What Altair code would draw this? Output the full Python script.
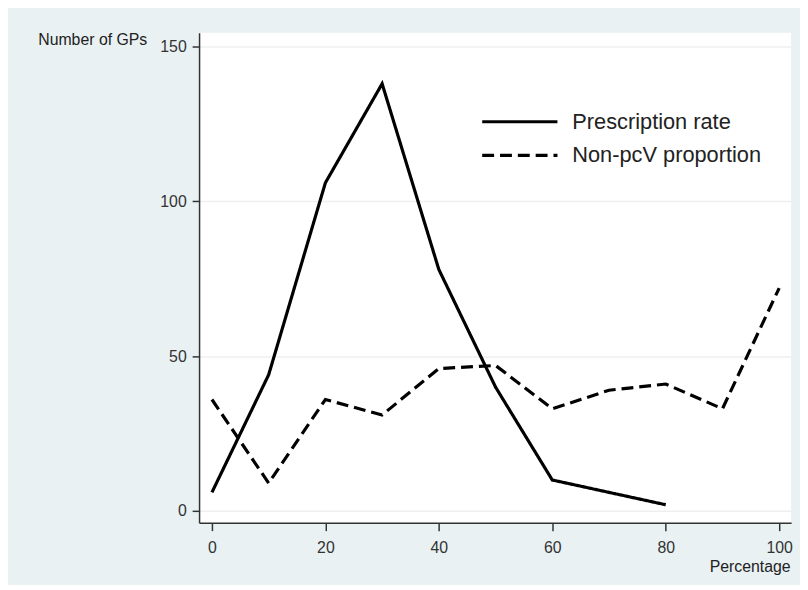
import altair as alt
import pandas as pd

x_presc = [0, 10, 20, 30, 40, 50, 60, 70, 80]
presc = [6, 44, 106, 138, 78, 40, 10, 6, 2]
x_nonpcv = [0, 10, 20, 30, 40, 50, 60, 70, 80, 90, 100]
nonpcv = [36, 9, 36, 31, 46, 47, 33, 39, 41, 33, 72]
series = ["Prescription rate", "Non-pcV proportion"]
x_ticks = [0, 20, 40, 60, 80, 100]
y_ticks = [0, 50, 100, 150]

rows = [{"pct": a, "n": b, "series": series[0]} for a, b in zip(x_presc, presc)]
rows += [{"pct": a, "n": b, "series": series[1]} for a, b in zip(x_nonpcv, nonpcv)]
df = pd.DataFrame(rows)

FONT = "Liberation Sans"

chart = alt.Chart(df).mark_line(color="black", strokeWidth=3.2).encode(
    x=alt.X("pct:Q", scale=alt.Scale(domain=[-2.27, 102.1], nice=False, zero=False),
            axis=alt.Axis(values=x_ticks, title="Percentage", grid=False,
                          titleAlign="right", titleX=597, titleY=44, titleBaseline="middle",
                          titleFontSize=16, titleFontWeight="normal",
                          labelFontSize=16, labelPadding=9, tickSize=8)),
    y=alt.Y("n:Q", scale=alt.Scale(domain=[-3.8, 154.5], nice=False, zero=False),
            axis=alt.Axis(values=y_ticks, title="Number of GPs", grid=True,
                          gridColor="#eef0f0", gridWidth=1.5,
                          titleAngle=0, titleAlign="left", titleBaseline="middle",
                          titleX=-163, titleY=7, titleFontSize=16, titleFontWeight="normal",
                          labelFontSize=16, labelPadding=6, tickSize=7)),
    strokeDash=alt.StrokeDash("series:N",
        scale=alt.Scale(domain=series, range=[[1, 0], [12, 6]]),
        legend=alt.Legend(title=None, orient="none", legendX=284, legendY=76,
                          symbolType="M-1,0L5.333,0", symbolSize=576,
                          symbolStrokeWidth=3.2, symbolStrokeColor="black",
                          symbolFillColor="transparent",
                          labelFontSize=22, labelFont=FONT,
                          labelColor="#222", labelOffset=65, rowPadding=9,
                          labelLimit=400)),
    order=alt.Order("pct:Q"),
).properties(
    width=598, height=495,
    autosize=alt.AutoSizeParams(type="none"),
    padding={"left": 193, "top": 22, "right": 9, "bottom": 60},
).configure(
    background="#e9f1f3",
    font=FONT,
).configure_view(
    fill="white", stroke=None,
).configure_axis(
    domainColor="#333", domainWidth=1.5, tickColor="#333", tickWidth=1.5,
    labelColor="#333", titleColor="#222", labelFont=FONT, titleFont=FONT,
)

chart.save("out.html", embed_options={"renderer": "svg", "actions": False})
